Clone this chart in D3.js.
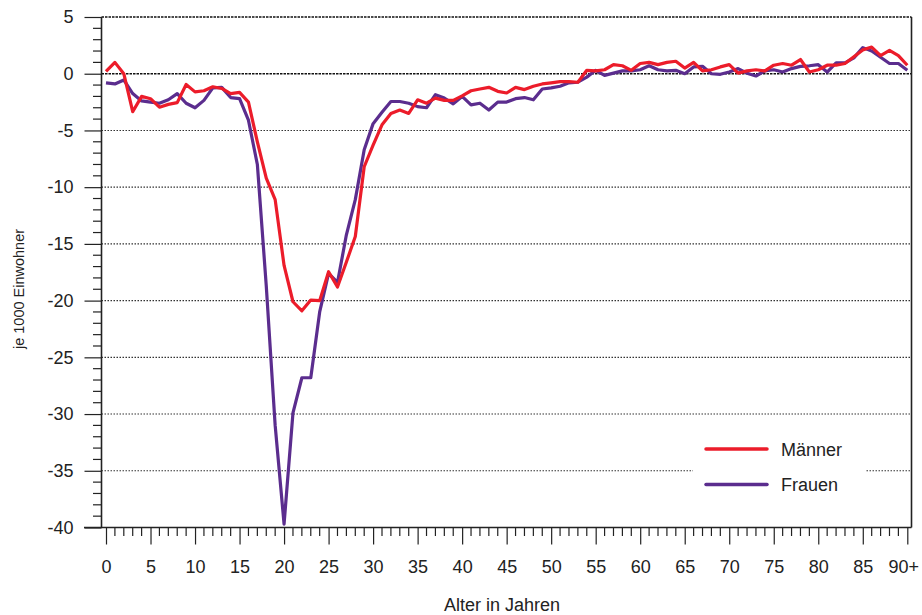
<!DOCTYPE html>
<html>
<head>
<meta charset="utf-8">
<script src="https://cdn.jsdelivr.net/npm/d3@7"></script>
<style>
  html, body { margin: 0; padding: 0; background: #fff; }
  svg text { font-family: "Liberation Sans", Arial, Helvetica, sans-serif; fill: #222; }
</style>
</head>
<body>
<svg id="chart" width="922" height="615"></svg>
<script>
// Ages 0 … 90+ (one value per single year of age)
const ages = d3.range(0, 91);

// Net migration per 1000 inhabitants, men
const maenner = [
  0.2, 1.0, 0.0, -3.35, -2.0, -2.2, -2.95, -2.7, -2.55, -0.95,
  -1.6, -1.5, -1.15, -1.3, -1.75, -1.65, -2.5, -6.0, -9.2, -11.1,
  -16.9, -20.1, -20.9, -19.95, -20.0, -17.45, -18.8, -16.6, -14.35, -8.2,
  -6.3, -4.5, -3.5, -3.2, -3.5, -2.3, -2.6, -2.15, -2.35, -2.35,
  -1.95, -1.5, -1.35, -1.2, -1.55, -1.7, -1.2, -1.4, -1.1, -0.9,
  -0.8, -0.7, -0.7, -0.75, 0.3, 0.25, 0.35, 0.8, 0.7, 0.3,
  0.9, 1.0, 0.8, 1.0, 1.1, 0.5, 1.0, 0.25, 0.35, 0.6,
  0.8, 0.05, 0.25, 0.35, 0.25, 0.75, 0.9, 0.75, 1.25, 0.15,
  0.35, 0.75, 0.75, 0.9, 1.5, 2.1, 2.35, 1.6, 2.05, 1.6,
  0.75
];

// Net migration per 1000 inhabitants, women
const frauen = [
  -0.8, -0.9, -0.55, -1.75, -2.4, -2.5, -2.6, -2.3, -1.75, -2.6,
  -3.0, -2.35, -1.25, -1.2, -2.1, -2.2, -4.1, -8.0, -18.7, -31.0,
  -39.7, -29.9, -26.8, -26.8, -21.0, -17.6, -18.4, -14.2, -11.1, -6.7,
  -4.4, -3.4, -2.45, -2.45, -2.6, -2.9, -3.0, -1.85, -2.15, -2.65,
  -2.0, -2.75, -2.6, -3.2, -2.5, -2.5, -2.2, -2.1, -2.3, -1.35,
  -1.25, -1.1, -0.8, -0.75, -0.3, 0.3, -0.15, 0.05, 0.25, 0.25,
  0.35, 0.7, 0.35, 0.25, 0.3, 0.0, 0.6, 0.65, 0.0, -0.05,
  0.15, 0.45, 0.05, -0.2, 0.25, 0.35, 0.15, 0.45, 0.65, 0.7,
  0.8, 0.15, 0.95, 0.95, 1.4, 2.3, 2.0, 1.45, 0.9, 0.9,
  0.3
];

const yTicks = [5, 0, -5, -10, -15, -20, -25, -30, -35, -40];
const xTicks = [0, 5, 10, 15, 20, 25, 30, 35, 40, 45, 50, 55, 60, 65, 70, 75, 80, 85, 90];
const xTickLabels = ["0", "5", "10", "15", "20", "25", "30", "35", "40", "45",
                     "50", "55", "60", "65", "70", "75", "80", "85", "90+"];

const seriesNames = ["Männer", "Frauen"];
const seriesColors = ["#ec1c2a", "#5b2d8e"];

const svg = d3.select("#chart");

// plot frame
const frame = { left: 101.5, right: 911.5, top: 17, bottom: 527.5 };

const x = d3.scaleLinear().domain([0, 90]).range([106, 907.3]);
const y = d3.scaleLinear().domain([-40, 5]).range([frame.bottom, frame.top]);

// horizontal grid lines (dotted), zero and top line heavier
const gridVals = yTicks.filter(v => v !== -40);
svg.append("g")
  .selectAll("line")
  .data(gridVals)
  .join("line")
  .attr("x1", frame.left)
  .attr("x2", frame.right)
  .attr("y1", d => y(d))
  .attr("y2", d => y(d))
  .attr("stroke", d => d === 0 || d === 5 ? "#111" : "#333")
  .attr("stroke-width", d => d === 0 || d === 5 ? 1.6 : 1.1)
  .attr("stroke-dasharray", d => d === 0 || d === 5 ? "2.5,1" : "1.5,1.5");

// right border
svg.append("line")
  .attr("x1", frame.right).attr("x2", frame.right)
  .attr("y1", frame.top).attr("y2", frame.bottom)
  .attr("stroke", "#222").attr("stroke-width", 1.6);

// y axis with minor ticks every unit
const yAxis = d3.axisLeft(y)
  .tickValues(yTicks)
  .tickSize(17)
  .tickPadding(11)
  .tickFormat(d => String(d));

const gy = svg.append("g")
  .attr("transform", `translate(${frame.left},0)`);

gy.append("g")
  .selectAll("line")
  .data(d3.range(-40, 6).filter(v => v % 5 !== 0))
  .join("line")
  .attr("x1", -8.5).attr("x2", 0)
  .attr("y1", d => y(d)).attr("y2", d => y(d))
  .attr("stroke", "#222").attr("stroke-width", 1.2);

gy.call(yAxis);
gy.select(".domain").remove();
gy.append("line")
  .attr("x1", 0).attr("x2", 0)
  .attr("y1", frame.top).attr("y2", frame.bottom)
  .attr("stroke", "#222").attr("stroke-width", 1.6);
gy.selectAll(".tick line").attr("stroke", "#222").attr("stroke-width", 1.2);
gy.selectAll(".tick text")
  .attr("font-size", 18)
  .attr("font-family", "Liberation Sans, Arial, sans-serif")
  .attr("fill", "#222");

// x axis with minor ticks every year
const gx = svg.append("g")
  .attr("transform", `translate(0,${frame.bottom})`);

gx.append("line")
  .attr("x1", 84).attr("x2", frame.right)
  .attr("y1", 0).attr("y2", 0)
  .attr("stroke", "#222").attr("stroke-width", 1.6);

gx.append("g")
  .selectAll("line")
  .data(ages.filter(a => a % 5 !== 0))
  .join("line")
  .attr("x1", d => x(d)).attr("x2", d => x(d))
  .attr("y1", 0).attr("y2", 8.5)
  .attr("stroke", "#222").attr("stroke-width", 1.2);

const xAxis = d3.axisBottom(x)
  .tickValues(xTicks)
  .tickSize(17)
  .tickPadding(16)
  .tickFormat((d, i) => xTickLabels[i]);

const gxa = gx.append("g").call(xAxis);
gxa.select(".domain").remove();
gxa.selectAll(".tick line").attr("stroke", "#222").attr("stroke-width", 1.2);
gxa.selectAll(".tick text")
  .attr("font-size", 18)
  .attr("font-family", "Liberation Sans, Arial, sans-serif")
  .attr("fill", "#222")
  .attr("dx", (d, i) => xTickLabels[i].endsWith("+") ? -4 : 0);

// axis titles
svg.append("text")
  .attr("x", 502).attr("y", 611)
  .attr("text-anchor", "middle")
  .attr("font-size", 18)
  .text("Alter in Jahren");

svg.append("text")
  .attr("transform", "translate(24,289) rotate(-90)")
  .attr("text-anchor", "middle")
  .attr("font-size", 14.5)
  .text("je 1000 Einwohner");

// series lines (women first, men on top)
const line = d3.line()
  .x((d, i) => x(ages[i]))
  .y(d => y(d));

svg.append("path")
  .datum(frauen)
  .attr("fill", "none")
  .attr("stroke", seriesColors[1])
  .attr("stroke-width", 3.2)
  .attr("stroke-linejoin", "round")
  .attr("d", line);

svg.append("path")
  .datum(maenner)
  .attr("fill", "none")
  .attr("stroke", seriesColors[0])
  .attr("stroke-width", 3.2)
  .attr("stroke-linejoin", "round")
  .attr("d", line);

// legend on a white panel
const legend = svg.append("g");
legend.append("rect")
  .attr("x", 693).attr("y", 430)
  .attr("width", 172).attr("height", 72)
  .attr("fill", "#fff");

const legendRows = legend.selectAll("g.row")
  .data(seriesNames)
  .join("g")
  .attr("class", "row")
  .attr("transform", (d, i) => `translate(0,${449 + i * 35.5})`);

legendRows.append("line")
  .attr("x1", 706).attr("x2", 767)
  .attr("y1", 0).attr("y2", 0)
  .attr("stroke", (d, i) => seriesColors[i])
  .attr("stroke-width", 3.5)
  .attr("stroke-linecap", "round");

legendRows.append("text")
  .attr("x", 781)
  .attr("y", 6.5)
  .attr("font-size", 18)
  .text(d => d);
</script>
</body>
</html>
